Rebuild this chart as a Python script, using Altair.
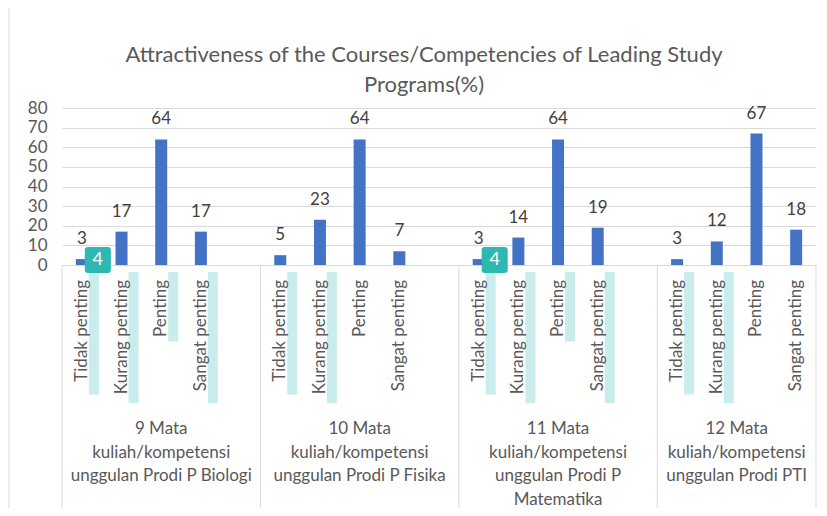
import altair as alt
import pandas as pd

title_lines = ["Attractiveness of the Courses/Competencies of Leading Study", "Programs(%)"]
groups = [
    "9 Mata\nkuliah/kompetensi\nunggulan Prodi P Biologi",
    "10 Mata\nkuliah/kompetensi\nunggulan Prodi P Fisika",
    "11 Mata\nkuliah/kompetensi\nunggulan Prodi P\nMatematika",
    "12 Mata\nkuliah/kompetensi\nunggulan Prodi PTI",
]
categories = ["Tidak penting", "Kurang penting", "Penting", "Sangat penting"]
biologi = [3, 17, 64, 17]
fisika = [5, 23, 64, 7]
matematika = [3, 14, 64, 19]
pti = [3, 12, 67, 18]
series = [biologi, fisika, matematika, pti]
# Excel multi-level axis: each group has one trailing empty slot except the last
group_slots = [5, 5, 5, 4]
y_ticks = [0, 10, 20, 30, 40, 50, 60, 70, 80]
# screenshot artefacts: highlighted label strips and "4" badges
highlighted = [[1, 1, 1, 1], [1, 1, 0, 0], [1, 1, 1, 1], [1, 1, 0, 0]]
badge_groups = [0, 2]
badge_text = "4"

W, H = 754, 157
FONT = "Lato"
GRAY = "#595959"
BOTTOM = 243
ROUNDED = ("M -0.75 -1 H 0.75 Q 1 -1 1 -0.75 V 0.75 Q 1 1 0.75 1 H -0.75 "
           "Q -1 1 -1 0.75 V -0.75 Q -1 -1 -0.75 -1 Z")

starts = [sum(group_slots[:i]) for i in range(len(group_slots))]
total = sum(group_slots)

rows = []
for gi, vals in enumerate(series):
    for ci, v in enumerate(vals):
        rows.append({"pos": starts[gi] + ci + 0.5, "value": v, "category": categories[ci],
                     "hl": highlighted[gi][ci]})
df = pd.DataFrame(rows)
grp_df = pd.DataFrame({"pos": [starts[gi] + group_slots[gi] / 2 for gi in range(len(groups))],
                       "label": groups})
div_df = pd.DataFrame({"pos": starts + [total]})
badge_df = pd.DataFrame({"pos": [starts[g] + 0.5 for g in badge_groups],
                         "t": [badge_text] * len(badge_groups)})
title_df = pd.DataFrame({"t": ["\n".join(title_lines)]})

xs = alt.Scale(domain=[0, total], nice=False, zero=False, padding=0)
x_axis = alt.Axis(labels=False, ticks=False, grid=False, domain=True,
                  domainColor="#d9d9d9", title=None)
X = alt.X("pos:Q", scale=xs, axis=x_axis)
ys = alt.Scale(domain=[0, 80], nice=False, padding=0)
y_axis = alt.Axis(values=y_ticks, grid=True, gridColor="#d9d9d9", ticks=False,
                  domain=False, labelFontSize=17, labelColor=GRAY, labelFont=FONT,
                  labelPadding=15, labelOverlap=False, labelFlush=False, title=None)
Y = alt.Y("value:Q", scale=ys, axis=y_axis)

base = alt.Chart(df)

bars = base.mark_bar(size=12, color="#4472c4").encode(x=X, y=Y)

strips = base.transform_filter("datum.hl == 1").transform_calculate(
    ytop=f"-7 * 80 / {H}",
    ybot=f"-(15 + length(datum.category) * 8.8) * 80 / {H}",
).mark_rule(color="#c9ecec", strokeWidth=10, xOffset=12).encode(
    x=X,
    y=alt.Y("ytop:Q", scale=ys, axis=y_axis),
    y2="ybot:Q",
)

vals = base.mark_text(dy=-20, fontSize=17, color="#404040", font=FONT).encode(
    x=X, y=Y, text="value:Q")
cats = base.mark_text(angle=270, align="right", baseline="middle", fontSize=17,
                      color=GRAY, font=FONT).encode(
    x=X, y=alt.value(H + 15), text="category:N")

grp = alt.Chart(grp_df).mark_text(baseline="top", fontSize=17, color=GRAY, font=FONT,
                                  lineBreak="\n", lineHeight=23.5).encode(
    x=X, y=alt.value(H + 156), text="label:N")

divs = alt.Chart(div_df).mark_rule(color="#d9d9d9").encode(
    x=X, y=alt.value(H), y2=alt.value(H + BOTTOM))

frame = alt.Chart(title_df).mark_rule(color="#d9d9d9").encode(
    x=alt.value(-53), y=alt.value(-100), y2=alt.value(H + BOTTOM))

badges = alt.Chart(badge_df).mark_point(shape=ROUNDED, size=680, color="#2db8b1", opacity=1,
                                        filled=True, xOffset=16).encode(
    x=X, y=alt.value(H - 5))
badge_t = alt.Chart(badge_df).mark_text(color="white", fontSize=18, font=FONT, dx=16).encode(
    x=X, y=alt.value(H - 5), text="t:N")

title = alt.Chart(title_df).mark_text(fontSize=22, color=GRAY, font=FONT, lineBreak="\n",
                                      lineHeight=30, baseline="middle").encode(
    x=alt.value(W / 2 - 15), y=alt.value(-53), text="t:N")

chart = alt.layer(bars, frame, divs, strips, vals, cats, grp, badges, badge_t, title).properties(
    width=W, height=H,
    autosize=alt.AutoSizeParams(type="none"),
    padding={"left": 54, "top": 100, "right": 3, "bottom": BOTTOM},
    background="white",
).configure_view(stroke=None)

chart.save("out.html", embed_options={"renderer": "svg", "actions": False})
